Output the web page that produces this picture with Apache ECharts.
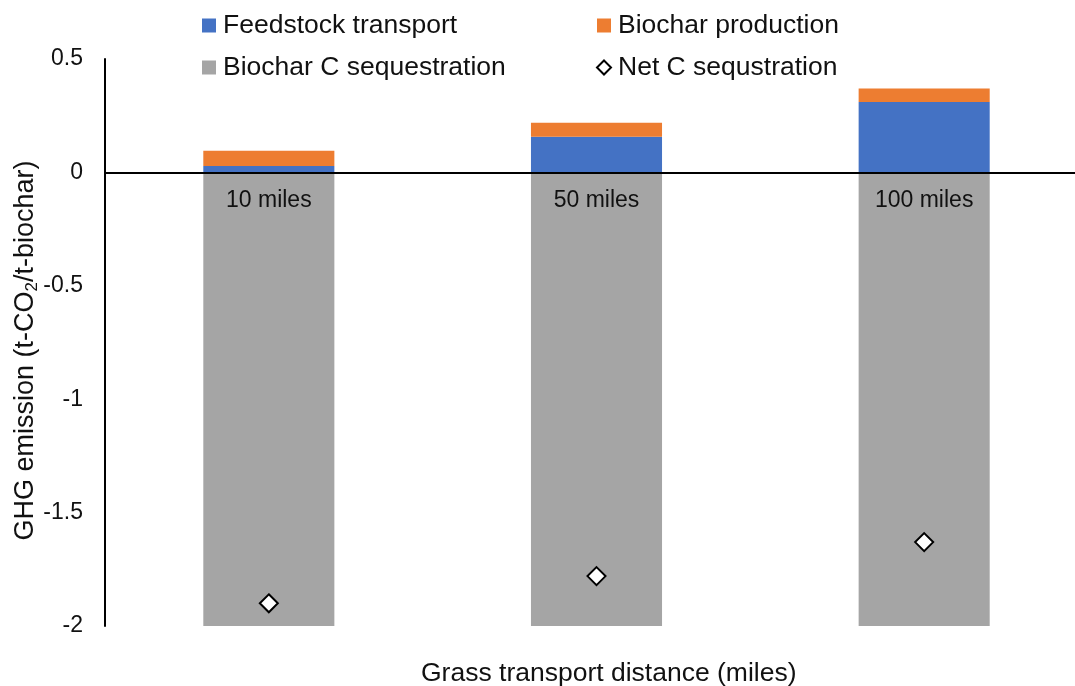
<!DOCTYPE html>
<html>
<head>
<meta charset="utf-8">
<script src="https://cdn.jsdelivr.net/npm/echarts@6/dist/echarts.min.js"></script>
<style>
html,body{margin:0;padding:0;background:#fff;}
#chart{width:1075px;height:686px;}
</style>
</head>
<body>
<div id="chart"></div>
<script>
const categories = ['10 miles', '50 miles', '100 miles'];
const feedstockTransport = [0.028, 0.157, 0.310];
const biocharProduction = [0.067, 0.062, 0.060];
const biocharCSequestration = [-2.0, -2.0, -2.0];
const netCSequestration = [-1.90, -1.78, -1.63];
const yTicks = { min: -2, max: 0.5, interval: 0.5 };

const FONT = "'Liberation Sans', Arial, sans-serif";
const chart = echarts.init(document.getElementById('chart'));

chart.setOption({
  animation: false,
  backgroundColor: '#fff',
  textStyle: { fontFamily: FONT },
  title: {
    text: 'Grass transport distance (miles)',
    left: 421, top: 660,
    padding: 0,
    textStyle: { fontFamily: FONT, fontSize: 26.5, fontWeight: 'normal', color: '#111' }
  },
  legend: [
    {
      data: [
        { name: 'Feedstock transport', icon: 'rect' },
        { name: 'Biochar C sequestration', icon: 'rect' }
      ],
      orient: 'vertical', left: 202, top: 12, padding: 0,
      itemWidth: 14, itemHeight: 14, itemGap: 15,
      textStyle: { fontFamily: FONT, fontSize: 26.5, color: '#111', padding: [0, 0, 0, 2] }
    },
    {
      data: [
        { name: 'Biochar production', icon: 'rect' },
        { name: 'Net C sequstration', icon: 'diamond' }
      ],
      orient: 'vertical', left: 596, top: 12, padding: 0,
      itemWidth: 14, itemHeight: 14, itemGap: 15,
      textStyle: { fontFamily: FONT, fontSize: 26.5, color: '#111', padding: [0, 0, 0, 2] }
    }
  ],
  grid: { left: 105, top: 59, width: 983, bottom: 60, containLabel: false, outerBoundsMode: 'none' },
  xAxis: {
    type: 'category',
    data: categories,
    axisLine: { onZero: true, lineStyle: { color: '#000', width: 2 } },
    axisTick: { show: false },
    axisLabel: { show: false },
    z: 10
  },
  yAxis: {
    type: 'value',
    min: yTicks.min, max: yTicks.max, interval: yTicks.interval,
    splitLine: { show: false },
    axisTick: { show: false },
    axisLine: { show: true, onZero: false, lineStyle: { color: '#000', width: 2 } },
    axisLabel: { fontFamily: FONT, fontSize: 23, color: '#111', margin: 22 },
    name: 'GHG emission (t-CO{sub|2}/t-biochar)',
    nameLocation: 'middle',
    nameRotate: 90,
    nameGap: 64,
    nameMoveOverlap: false,
    nameTextStyle: {
      fontFamily: FONT, fontSize: 27, color: '#111', lineHeight: 30,
      padding: [0, 16, 0, 0],
      rich: { sub: { fontFamily: FONT, fontSize: 17, lineHeight: 17, verticalAlign: 'bottom', color: '#111' } }
    }
  },
  series: [
    {
      name: 'Feedstock transport', type: 'bar', stack: 'total',
      data: feedstockTransport, barCategoryGap: '60%',
      itemStyle: { color: '#4472C4' }
    },
    {
      name: 'Biochar production', type: 'bar', stack: 'total',
      data: biocharProduction,
      itemStyle: { color: '#ED7D31' }
    },
    {
      name: 'Biochar C sequestration', type: 'bar', stack: 'total',
      data: biocharCSequestration,
      itemStyle: { color: '#A5A5A5' },
      label: {
        show: true, position: 'insideTop', distance: 17,
        formatter: '{b}', fontFamily: FONT, fontSize: 23, color: '#111'
      }
    },
    {
      name: 'Net C sequstration', type: 'scatter',
      data: netCSequestration,
      symbol: 'diamond', symbolSize: 18,
      itemStyle: { color: '#fff', borderColor: '#000', borderWidth: 2, opacity: 1 },
      z: 20
    }
  ]
});
</script>
</body>
</html>
